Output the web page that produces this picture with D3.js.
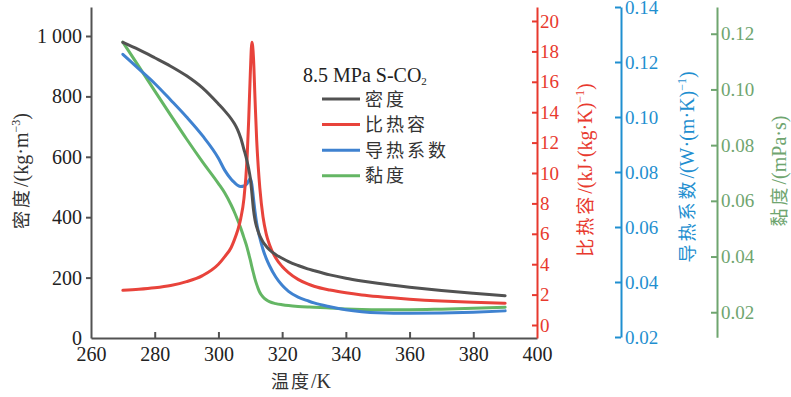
<!DOCTYPE html>
<html>
<head>
<meta charset="utf-8">
<script src="https://cdn.jsdelivr.net/npm/d3@7"></script>
<style>
  body { margin: 0; background: #fff; }
  svg { display: block; }
</style>
</head>
<body>
<svg id="chart" width="791" height="397"></svg>
<script>
"use strict"

// temperature samples, K (denser around the pseudo-critical point)
var temps = [270, 275, 280, 285, 290, 295, 300, 302, 304, 305, 306, 307, 308, 309, 309.5, 310, 310.5, 311, 311.5,
             312, 312.5, 313, 314, 315, 316, 318, 320, 322, 325, 328, 330, 335, 340, 345, 350, 360, 370, 380, 390];

// density, kg/m3
var density = [979, 955, 928, 900, 868, 828, 775, 752, 726, 710, 690, 662, 625, 585, 560, 530, 480, 425, 390,
               368, 352, 338, 318, 304, 292, 276, 264, 253, 240, 229, 223, 209, 198, 189, 181, 168, 157, 148, 140];

// specific heat, kJ/(kg K)
var heat = [2.28, 2.35, 2.45, 2.6, 2.85, 3.25, 4.0, 4.5, 5.1, 5.6, 6.2, 7.0, 8.3, 11.0, 13.5, 16.5, 18.6, 17.6, 14.8,
            12.2, 10.4, 9.0, 7.1, 6.0, 5.3, 4.4, 3.85, 3.45, 3.0, 2.7, 2.55, 2.3, 2.12, 1.98, 1.87, 1.7, 1.58, 1.5, 1.43];

// thermal conductivity, W/(m K)
var conductivity = [0.1228, 0.1175, 0.1122, 0.1062, 0.1000, 0.0932, 0.0850, 0.0806, 0.0774, 0.0762, 0.0752, 0.0747,
                    0.0749, 0.0758, 0.0768, 0.0776, 0.0755, 0.0705, 0.0655, 0.0615, 0.0585, 0.0560, 0.0518, 0.0486,
                    0.0460, 0.0418, 0.0388, 0.0366, 0.0345, 0.0332, 0.0324, 0.0310, 0.0299, 0.0292, 0.0288, 0.0286,
                    0.0287, 0.0290, 0.0295];

// viscosity, mPa s
var viscosity = [0.1170, 0.1083, 0.0995, 0.0908, 0.0822, 0.0740, 0.0662, 0.0628, 0.0585, 0.0560, 0.0532, 0.0502,
                 0.0468, 0.0432, 0.0410, 0.0388, 0.0363, 0.0340, 0.0318, 0.0300, 0.0284, 0.0271, 0.0255, 0.0245,
                 0.0238, 0.0231, 0.0227, 0.0224, 0.0221, 0.0219, 0.0218, 0.0215, 0.0212, 0.0210, 0.0209, 0.0209,
                 0.0211, 0.0214, 0.0218];

var tempTicks = [260, 280, 300, 320, 340, 360, 380, 400];
var densityTicks = [0, 200, 400, 600, 800, 1000];
var heatTicks = [0, 2, 4, 6, 8, 10, 12, 14, 16, 18, 20];
var condTicks = [0.02, 0.04, 0.06, 0.08, 0.10, 0.12, 0.14];
var viscTicks = [0.02, 0.04, 0.06, 0.08, 0.10, 0.12];

var legendTitle = "8.5 MPa S-CO";
var legendNames = ["密度", "比热容", "导热系数", "黏度"];

var COL = {
    dark: "#525252", red: "#e8433b", blue: "#3f82d0", green: "#64b664",
    axisRed: "#e8392e", axisBlue: "#1f8fd0", axisGreen: "#6fa56f"
};
var SERIF = "'Liberation Serif', 'Times New Roman', 'Noto Sans CJK SC', serif";
var CJK = "'Noto Sans CJK SC', sans-serif";

var svg = d3.select("#chart");

var plotTop = 7, plotBottom = 338;
var x = d3.scaleLinear().domain([260, 400]).range([91, 537]);
var yRho = d3.scaleLinear().domain([0, 1096]).range([plotBottom, plotTop]);
var yCp = d3.scaleLinear().domain([-0.855, 20.92]).range([plotBottom, plotTop]);
var yK = d3.scaleLinear().domain([0.02, 0.14]).range([337, plotTop]);
var yMu = d3.scaleLinear().domain([0.011, 0.1296]).range([337.3, plotTop]);

function styleAxis(g, color, size) {
    g.select(".domain").attr("stroke", color).attr("stroke-width", 2);
    g.selectAll(".tick line").attr("stroke", color).attr("stroke-width", 2);
    g.selectAll(".tick text").attr("fill", color).attr("font-size", size)
        .style("font-family", SERIF);
}

// x axis, ticks point inward
var gx = svg.append("g").attr("transform", "translate(0," + plotBottom + ")")
    .call(d3.axisBottom(x).tickValues(tempTicks).tickSizeInner(-6).tickSizeOuter(0).tickPadding(9));
styleAxis(gx, COL.dark, 20);
gx.selectAll(".tick text").attr("fill", "#222");
gx.selectAll(".tick").filter(function(d) { return d === 260 || d === 400; }).select("line").remove();

// left axis (density)
var gl = svg.append("g").attr("transform", "translate(91,0)")
    .call(d3.axisLeft(yRho).tickValues(densityTicks).tickSizeInner(5).tickSizeOuter(0).tickPadding(4)
        .tickFormat(function(d) { return d === 1000 ? "1 000" : d; }));
styleAxis(gl, COL.dark, 20);
gl.selectAll(".tick text").attr("fill", "#222");
gl.selectAll(".tick").filter(function(d) { return d === 0; }).select("line").remove();

// right axes, ticks point back toward the plot
var gr = svg.append("g").attr("transform", "translate(537,0)")
    .call(d3.axisRight(yCp).tickValues(heatTicks).tickSizeInner(-5).tickSizeOuter(0).tickPadding(3));
styleAxis(gr, COL.axisRed, 19);

var gb = svg.append("g").attr("transform", "translate(621,0)")
    .call(d3.axisRight(yK).tickValues(condTicks).tickSizeInner(-6).tickSizeOuter(0).tickPadding(4)
        .tickFormat(d3.format(".2f")));
styleAxis(gb, COL.axisBlue, 19);

var gg = svg.append("g").attr("transform", "translate(717,0)")
    .call(d3.axisRight(yMu).tickValues(viscTicks).tickSizeInner(-6).tickSizeOuter(0).tickPadding(4)
        .tickFormat(d3.format(".2f")));
styleAxis(gg, COL.axisGreen, 19);

// curves
function drawCurve(values, yScale, color) {
    var line = d3.line()
        .x(function(d, i) { return x(temps[i]); })
        .y(function(d) { return yScale(d); })
        .curve(d3.curveMonotoneX);
    svg.append("path").datum(values)
        .attr("d", line)
        .attr("fill", "none")
        .attr("stroke", color)
        .attr("stroke-width", 3)
        .attr("stroke-linejoin", "round")
        .attr("stroke-linecap", "round");
}

drawCurve(viscosity, yMu, COL.green);
drawCurve(conductivity, yK, COL.blue);
drawCurve(heat, yCp, COL.red);
drawCurve(density, yRho, COL.dark);

// legend
var legend = svg.append("g");
var title = legend.append("text").attr("x", 303).attr("y", 82).attr("font-size", 20).attr("fill", "#222")
    .style("font-family", SERIF);
title.append("tspan").text(legendTitle);
title.append("tspan").attr("font-size", 11).attr("dy", 3).text("2");

var legendCols = [COL.dark, COL.red, COL.blue, COL.green];
legendNames.forEach(function(name, i) {
    var cy = 99 + i * 25.6;
    legend.append("line")
        .attr("x1", 322).attr("x2", 360).attr("y1", cy).attr("y2", cy)
        .attr("stroke", legendCols[i]).attr("stroke-width", 3);
    legend.append("text")
        .attr("x", 365).attr("y", cy + 6.5)
        .attr("font-size", 18).attr("letter-spacing", 3).attr("fill", "#333")
        .style("font-family", CJK)
        .text(name);
});

// axis titles
function axisTitle(cx, cy, color, cjk, unit, sup, tail) {
    var t = svg.append("text")
        .attr("transform", "translate(" + cx + "," + cy + ") rotate(-90)")
        .attr("text-anchor", "middle")
        .attr("fill", color)
        .attr("font-size", 20)
        .style("font-family", SERIF);
    t.append("tspan").style("font-family", CJK).attr("font-size", 18)
        .attr("letter-spacing", 3).text(cjk);
    t.append("tspan").text(unit);
    if (sup) {
        t.append("tspan").attr("font-size", 12).attr("dy", -8).text(sup);
        t.append("tspan").attr("dy", 8).text(tail);
    }
    return t;
}

axisTitle(28, 171, "#333", "密度", "/(kg·m", "−3", ")");
axisTitle(592, 170, COL.axisRed, "比热容", "/(kJ·(kg·K)", "−1", ")");
axisTitle(694, 167, COL.axisBlue, "导热系数", "/(W·(m·K)", "−1", ")");
axisTitle(786, 171, COL.axisGreen, "黏度", "/(mPa·s)", null, null);

svg.append("text").attr("x", 271).attr("y", 388).attr("font-size", 20).attr("fill", "#333")
    .style("font-family", SERIF)
    .call(function(t) {
        t.append("tspan").style("font-family", CJK).attr("font-size", 18)
            .attr("letter-spacing", 2).text("温度");
        t.append("tspan").text("/K");
    });
</script>
</body>
</html>
